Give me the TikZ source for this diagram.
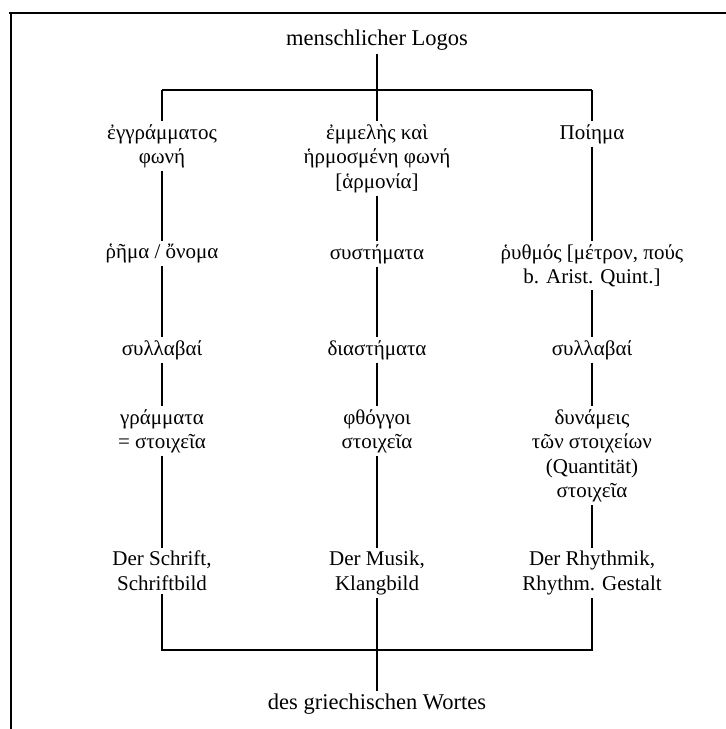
\documentclass[tikz,border=0pt]{standalone}
\usepackage{fontspec}
\setmainfont{Liberation Serif}
\begin{document}
\begin{tikzpicture}[x=1pt,y=-1pt,
  lbl/.style={align=center,anchor=north,inner sep=3pt,font=\fontsize{21}{24.5}\selectfont},
  big/.style={lbl,font=\fontsize{22.5}{25}\selectfont},
  conn/.style={line width=1.3pt},
  frame/.style={line width=1.6pt}]
\useasboundingbox (0,0) rectangle (726,729);
\draw[frame] (9,13) -- (726,13);
\draw[frame] (11,13) -- (11,729);
% nodes
\node[big] (top) at (377,27) {menschlicher Logos};
\node[lbl] (r1a) at (162,121) {ἐγγράμματος\\φωνή};
\node[lbl] (r1b) at (377,121) {ἐμμελὴς καὶ\\ἡρμοσμένη φωνή\\{[}ἁρμονία{]}};
\node[lbl] (r1c) at (592,121) {Ποίημα};
\node[lbl] (r2a) at (162,241) {ῥῆμα / ὄνομα};
\node[lbl] (r2b) at (377,241) {συστήματα};
\node[lbl] (r2c) at (592,241) {ῥυθμός [μέτρον, πούς\\b. Arist. Quint.]};
\node[lbl] (r3a) at (162,337) {συλλαβαί};
\node[lbl] (r3b) at (377,337) {διαστήματα};
\node[lbl] (r3c) at (592,337) {συλλαβαί};
\node[lbl] (r4a) at (162,406) {γράμματα\\= στοιχεῖα};
\node[lbl] (r4b) at (377,406) {φθόγγοι\\στοιχεῖα};
\node[lbl] (r4c) at (592,406) {δυνάμεις\\τῶν στοιχείων\\(Quantität)\\στοιχεῖα};
\node[lbl] (r5a) at (162,548) {Der Schrift,\\Schriftbild};
\node[lbl] (r5b) at (377,548) {Der Musik,\\Klangbild};
\node[lbl] (r5c) at (592,548) {Der Rhythmik,\\Rhythm. Gestalt};
\node[big] (bot) at (377,691) {des griechischen Wortes};
% bar coordinates
\coordinate (tl) at (162,90);
\coordinate (tm) at (377,90);
\coordinate (tr) at (592,90);
\coordinate (bl) at (162,650);
\coordinate (br) at (592,650);
% connectors
\draw[conn] (top.south) -- (tm);
\draw[conn] (tl) -- (tr);
\draw[conn] (tl) -- (r1a.north);
\draw[conn] (tm) -- (r1b.north);
\draw[conn] (tr) -- (r1c.north);
\draw[conn] (r1a) -- (r2a);
\draw[conn] (r1b) -- (r2b);
\draw[conn] (r1c) -- (r2c);
\draw[conn] (r2a) -- (r3a);
\draw[conn] (r2b) -- (r3b);
\draw[conn] (r2c) -- (r3c);
\draw[conn] (r3a) -- (r4a);
\draw[conn] (r3b) -- (r4b);
\draw[conn] (r3c) -- (r4c);
\draw[conn] (r4a) -- (r5a);
\draw[conn] (r4b) -- (r5b);
\draw[conn] (r4c) -- (r5c);
\draw[conn] (r5a.south) -- (bl) -- (br) -- (r5c.south);
\draw[conn] (r5b) -- (bot);
\end{tikzpicture}
\end{document}
